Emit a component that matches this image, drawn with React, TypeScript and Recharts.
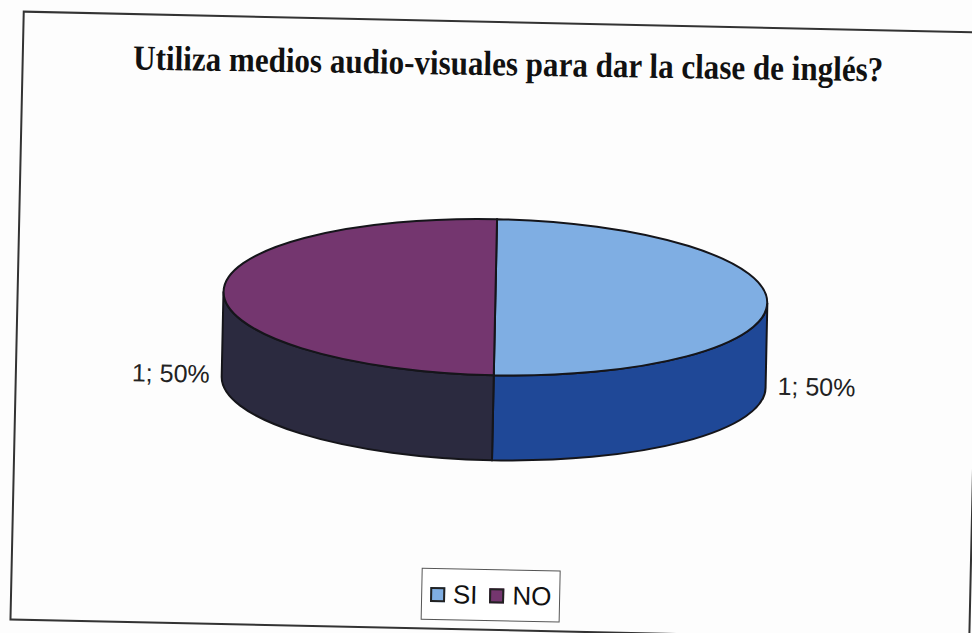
import { Legend, Pie, PieChart } from 'recharts';

const CATEGORIES = ['SI', 'NO'];
const VALUES = [1, 1];
const TOP_COLORS = ['#7FAEE3', '#74366F'];
const WALL_COLORS = ['#1F4897', '#2B2A3F'];
const TITLE = 'Utiliza medios audio-visuales para dar la clase de inglés?';

const rows = CATEGORIES.map((name, i) => ({ name, value: VALUES[i], fill: TOP_COLORS[i], wall: WALL_COLORS[i] }));

const SQUASH = 0.287;
const DEPTH = 85;
const OUTLINE = '#15151a';
const RAD = Math.PI / 180;

// recharts da los ángulos; aquí solo se aplasta el círculo a elipse y se añade el canto
function Sector3D(props: any) {
  const { cx, cy, outerRadius, startAngle, endAngle, fill, payload } = props;
  const rx = outerRadius;
  const ry = outerRadius * SQUASH;
  const pt = (a: number, dy = 0) => `${cx + rx * Math.cos(a * RAD)} ${cy - ry * Math.sin(a * RAD) + dy}`;
  const large = Math.abs(startAngle - endAngle) > 180 ? 1 : 0;
  const wallFrom = Math.min(startAngle, 0);
  const wallTo = Math.max(endAngle, -180);
  return (
    <g>
      {wallFrom > wallTo && (
        <path
          d={`M${pt(wallFrom)} A${rx} ${ry} 0 0 1 ${pt(wallTo)} L${pt(wallTo, DEPTH)} A${rx} ${ry} 0 0 0 ${pt(wallFrom, DEPTH)} Z`}
          fill={payload.wall}
          stroke={OUTLINE}
          strokeWidth={2}
        />
      )}
      <path
        d={`M${cx} ${cy} L${pt(startAngle)} A${rx} ${ry} 0 ${large} 1 ${pt(endAngle)} Z`}
        fill={fill}
        stroke={OUTLINE}
        strokeWidth={2}
      />
    </g>
  );
}

function SliceLabel(props: any) {
  const { cx, cy, outerRadius, midAngle, value, percent } = props;
  const side = Math.cos(midAngle * RAD) >= 0 ? 1 : -1;
  return (
    <text
      x={cx + side * (outerRadius + 12)}
      y={cy + 85}
      textAnchor={side > 0 ? 'start' : 'end'}
      dominantBaseline="middle"
      fontFamily="Liberation Sans"
      fontSize={25}
      fill="#222"
    >
      {`${value}; ${Math.round(percent * 100)}%`}
    </text>
  );
}

function LegendBox({ payload }: any) {
  return (
    <div
      style={{
        display: 'flex',
        alignItems: 'center',
        justifyContent: 'center',
        gap: 12,
        height: 52,
        border: '1.5px solid #555',
        boxSizing: 'border-box',
        fontFamily: 'Liberation Sans',
        fontSize: 26,
        color: '#111',
        background: '#fff',
      }}
    >
      {(payload ?? []).map((item: any) => (
        <span key={item.value} style={{ display: 'flex', alignItems: 'center', gap: 8 }}>
          <span style={{ width: 15, height: 15, background: item.color, border: '2px solid #222', boxSizing: 'border-box' }} />
          {item.value}
        </span>
      ))}
    </div>
  );
}

export default function App() {
  return (
    <div style={{ position: 'absolute', left: 0, top: 0, width: 972, height: 633, overflow: 'hidden', background: '#fdfdfd' }}>
      <div
        style={{
          position: 'absolute',
          left: 15.5,
          top: 21,
          width: 961,
          height: 610,
          border: '2px solid #333',
          boxSizing: 'border-box',
          transform: 'rotate(1.25deg)',
        }}
      />
      <div style={{ position: 'absolute', inset: 0, transform: 'rotate(1.2deg)' }}>
        <PieChart width={972} height={633} margin={{ top: 0, right: 0, bottom: 0, left: 0 }}>
          {/* el título del original está estrechado, por eso la escala en x */}
          <text
            textAnchor="middle"
            fontFamily="Liberation Serif"
            fontWeight="bold"
            fontSize={35}
            transform="translate(503 75) rotate(-0.3) scale(0.888 1)"
            fill="#111"
          >
            {TITLE}
          </text>
          <Pie
            data={rows}
            dataKey="value"
            nameKey="name"
            cx={495}
            cy={297}
            outerRadius={272}
            startAngle={90}
            endAngle={-270}
            isAnimationActive={false}
            shape={Sector3D}
            label={SliceLabel}
            labelLine={false}
          />
          <Legend
            content={<LegendBox />}
            itemSorter={null}
            wrapperStyle={{ position: 'absolute', left: 427, top: 569, width: 139, bottom: 'auto' }}
          />
        </PieChart>
      </div>
    </div>
  );
}
